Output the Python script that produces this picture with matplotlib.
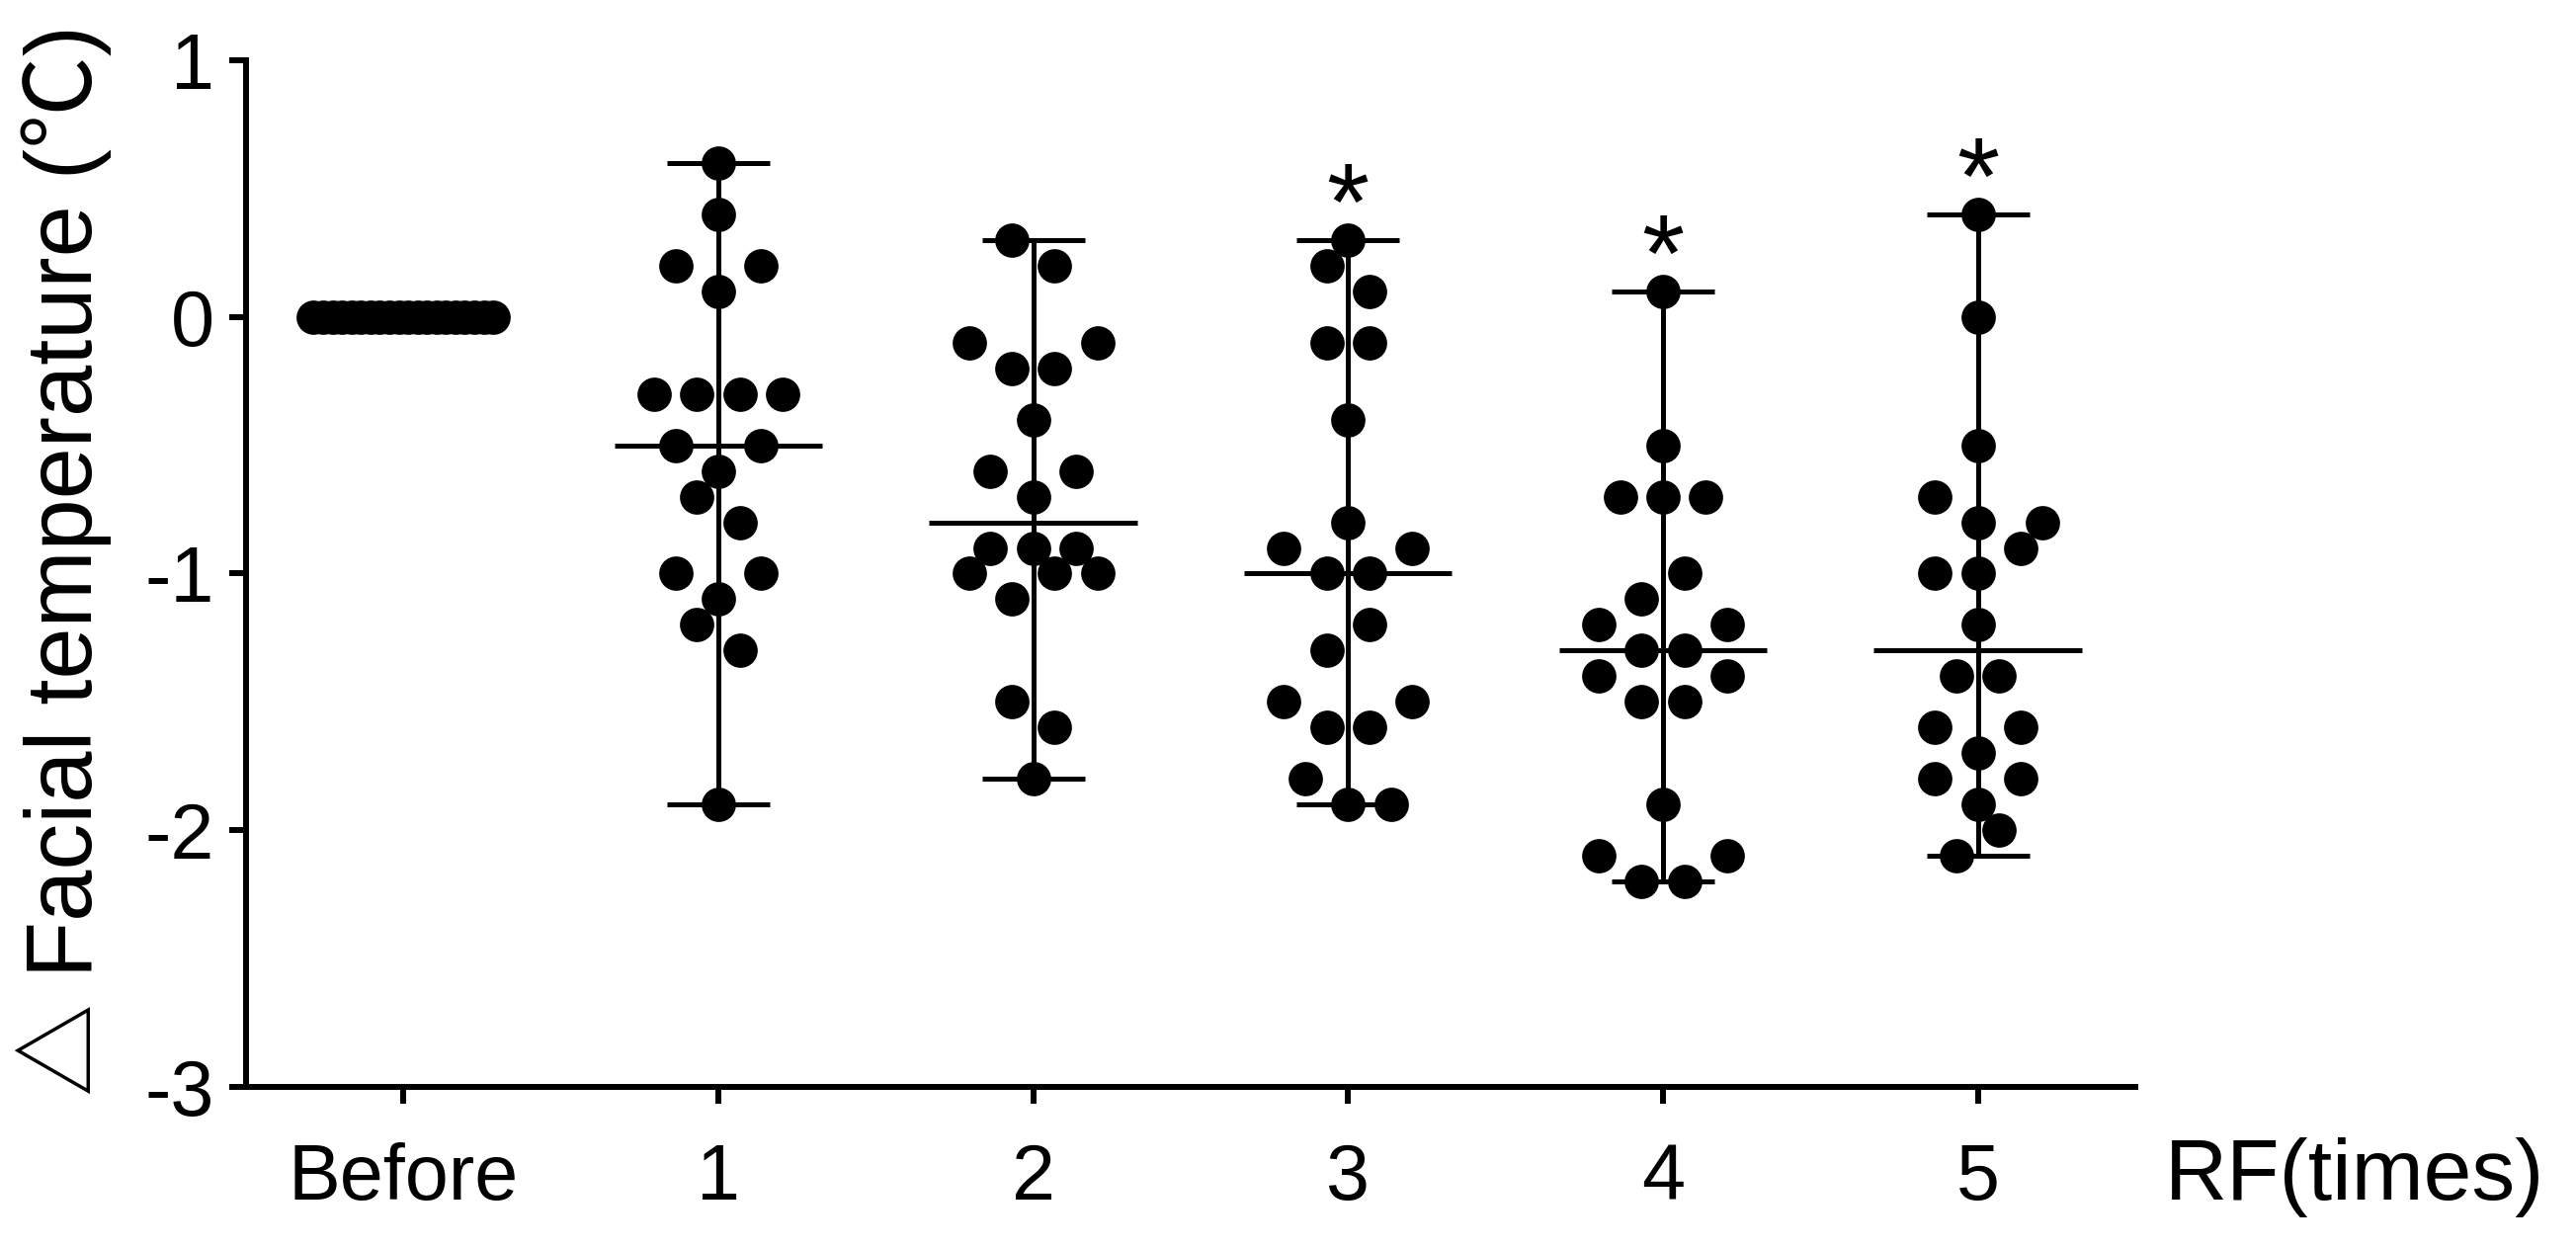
import numpy as np
import matplotlib
matplotlib.use("Agg")
import matplotlib.pyplot as plt

plt.rcParams['font.family'] = ['Liberation Sans', 'Noto Sans CJK SC', 'DejaVu Sans']
plt.rcParams['axes.unicode_minus'] = False

# change of facial temperature (deg C), 20 subjects per group
groups = ["Before", "1", "2", "3", "4", "5"]
before = [0.0] * 20
rf1 = [-1.9, -1.2, -1.3, -1.0, -1.1, -1.0, -0.7, -0.8, -0.5, -0.6,
       -0.5, -0.3, -0.3, -0.3, -0.3, 0.2, 0.1, 0.2, 0.4, 0.6]
rf2 = [-1.8, -1.5, -1.6, -1.0, -1.1, -1.0, -1.0, -0.9, -0.9, -0.9,
       -0.6, -0.7, -0.6, -0.4, -0.1, -0.2, -0.2, -0.1, 0.3, 0.2]
rf3 = [-1.8, -1.9, -1.9, -1.5, -1.6, -1.6, -1.5, -1.3, -1.2, -0.9,
       -1.0, -1.0, -0.9, -0.8, -0.4, -0.1, -0.1, 0.2, 0.1, 0.3]
rf4 = [-2.1, -2.2, -2.2, -2.1, -1.9, -1.4, -1.5, -1.5, -1.4, -1.2,
       -1.3, -1.3, -1.2, -1.1, -1.0, -0.7, -0.7, -0.7, -0.5, 0.1]
rf5 = [-2.1, -2.0, -1.8, -1.9, -1.8, -1.6, -1.7, -1.6, -1.4, -1.4,
       -1.2, -1.0, -1.0, -0.9, -0.7, -0.8, -0.8, -0.5, 0.0, 0.4]
data = [before, rf1, rf2, rf3, rf4, rf5]
significant = [False, False, False, True, True, True]

fig = plt.figure(figsize=(26.07, 12.63), dpi=100)
ax = fig.add_axes([0.0955, 0.1291, 0.7334, 0.8226])
ax.set_xlim(-0.5, 5.5)
ax.set_ylim(-3, 1)

MS = 25  # marker size, points
min_px = 0.85 * MS * fig.dpi / 72


def collide(x, y, placed):
    p = ax.transData.transform((x, y))
    for q in placed:
        if np.hypot(*(p - ax.transData.transform(q))) < min_px:
            return True
    return False


def swarm(values, center, step=0.136, bin_h=0.15, max_spread=0.57):
    # prism-like scatter: points binned by value, spread side by side in each bin
    values = np.asarray(values, float)
    order = np.argsort(values, kind="stable")
    bins, cur = [], [order[0]]
    for i in order[1:]:
        if values[i] - values[cur[0]] < bin_h:
            cur.append(i)
        else:
            bins.append(cur)
            cur = [i]
    bins.append(cur)

    xs = np.zeros(len(values))
    placed = []
    for b in bins:
        b = sorted(b)
        n = len(b)
        gap = step if (n - 1) * step <= max_spread else max_spread / (n - 1)
        for k, i in enumerate(b):
            off = (k - (n - 1) / 2) * gap
            sign = 1 if off >= 0 else -1
            while collide(center + off, values[i], placed):
                off += sign * step / 2
            xs[i] = center + off
        placed.extend((xs[i], values[i]) for i in b)
    return xs


lw = 3.6
for g, vals in enumerate(data):
    vals = np.asarray(vals)
    lo, hi, med = vals.min(), vals.max(), np.median(vals)
    ax.vlines(g, lo, hi, color="black", lw=lw)
    ax.hlines([lo, hi], g - 0.163, g + 0.163, color="black", lw=lw)
    ax.hlines(med, g - 0.33, g + 0.33, color="black", lw=lw)
    xs = swarm(vals, g)
    ax.plot(xs, vals, "o", color="black", ms=MS, mew=0, zorder=3)
    if significant[g]:
        ax.annotate("*", xy=(g, hi), xytext=(0, 0), textcoords="offset points",
                    ha="center", va="baseline", fontsize=80)

ax.set_xticks(range(len(groups)))
ax.set_xticklabels(groups)
ax.set_yticks([-3, -2, -1, 0, 1])
ax.tick_params(length=12, width=4.3, labelsize=57, color="black")
ax.tick_params(axis="x", pad=28)
ax.tick_params(axis="y", pad=11)
for s in ["top", "right"]:
    ax.spines[s].set_visible(False)
for s in ["left", "bottom"]:
    ax.spines[s].set_linewidth(4.3)

ax.annotate("RF(times)", xy=(5.595, 0), xycoords=("data", "axes fraction"),
            xytext=(0, -82), textcoords="offset points", ha="left", va="baseline",
            fontsize=63, annotation_clip=False)
fig.text(0.0357, 0.551, "△ Facial temperature (℃)", rotation=90,
         rotation_mode="anchor", ha="center", va="baseline", fontsize=67.5)

fig.savefig("out.png", dpi=100)
